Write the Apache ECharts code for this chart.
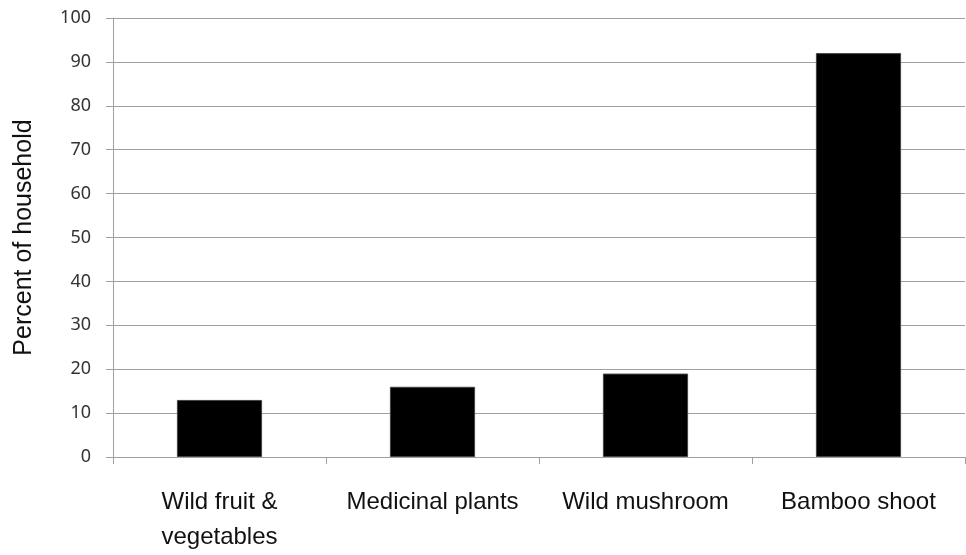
<!DOCTYPE html>
<html><head><meta charset="utf-8">
<script src="https://cdn.jsdelivr.net/npm/echarts@6/dist/echarts.min.js"></script>
<style>html,body{margin:0;padding:0;background:#fff}#c{width:966px;height:555px}</style>
</head><body><div id="c"></div>
<script>
const categories = ["Wild fruit &\nvegetables", "Medicinal plants", "Wild mushroom", "Bamboo shoot"];
const values = [13, 16, 19, 92];
const yTicks = {min: 0, max: 100, interval: 10};

const chart = echarts.init(document.getElementById('c'), null, {renderer: 'canvas'});
chart.setOption({
  animation: false,
  grid: {left: 113, right: 1, top: 18, bottom: 96},
  xAxis: {
    type: 'category',
    data: categories,
    axisLine: {lineStyle: {color: '#a0a0a0', width: 1}},
    axisTick: {show: true, length: 7, lineStyle: {color: '#a0a0a0'}},
    axisLabel: {color: '#111', fontFamily: 'Liberation Sans', fontSize: 24, margin: 28, lineHeight: 35, interval: 0}
  },
  yAxis: {
    type: 'value',
    min: yTicks.min, max: yTicks.max, interval: yTicks.interval,
    name: 'Percent of household',
    nameLocation: 'middle',
    nameGap: 76,
    nameTextStyle: {color: '#111', fontFamily: 'Liberation Sans', fontSize: 25},
    axisLine: {show: true, lineStyle: {color: '#a0a0a0'}},
    axisTick: {show: true, length: 7, lineStyle: {color: '#a0a0a0'}},
    axisLabel: {color: '#333', fontFamily: 'Noto Sans', fontSize: 18, margin: 22},
    splitLine: {lineStyle: {color: '#a0a0a0', width: 1}}
  },
  series: [{
    type: 'bar',
    data: values,
    barWidth: '40%',
    itemStyle: {color: '#000', borderColor: '#444', borderWidth: 1}
  }]
});
</script></body></html>
